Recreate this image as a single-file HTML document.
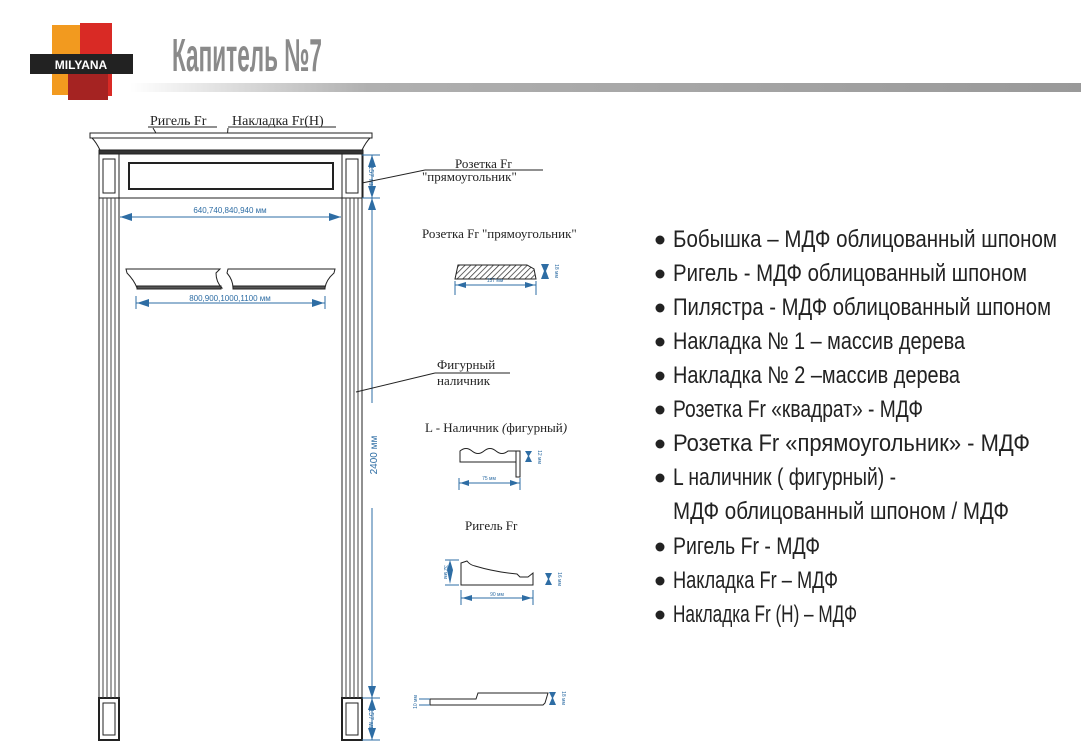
<!DOCTYPE html>
<html><head><meta charset="utf-8"><style>
html,body{margin:0;padding:0;background:#fff;width:1081px;height:750px;overflow:hidden}
svg{display:block}
</style></head><body>
<svg width="1081" height="750" viewBox="0 0 1081 750" xmlns="http://www.w3.org/2000/svg">
<defs>
<linearGradient id="bar" x1="0" x2="1" y1="0" y2="0">
<stop offset="0" stop-color="#fff"/><stop offset="0.25" stop-color="#b0b0b0"/><stop offset="1" stop-color="#999"/>
</linearGradient>
<pattern id="hatch" width="4" height="4" patternUnits="userSpaceOnUse" patternTransform="rotate(45)">
<line x1="0" y1="0" x2="0" y2="4" stroke="#333" stroke-width="1.5"/></pattern>
</defs>
<!-- logo -->
<rect x="52" y="25" width="32" height="70" fill="#f29a1f"/>
<rect x="80" y="23" width="32" height="73" fill="#d92a25"/>
<rect x="68" y="70" width="40" height="30" fill="#a52322"/>
<rect x="30" y="54" width="103" height="20" fill="#222"/>
<text x="81" y="69" font-family="Liberation Sans,sans-serif" font-weight="bold" font-size="12" fill="#fff" text-anchor="middle">MILYANA</text>
<!-- title -->
<text x="172" y="71" font-family="Liberation Sans,sans-serif" font-weight="bold" font-size="46" fill="#8a8a8a" textLength="150" lengthAdjust="spacingAndGlyphs">Капитель №7</text>
<rect x="130" y="83" width="951" height="9" fill="url(#bar)"/>

<g font-family="Liberation Serif,serif" fill="#222">
<text x="150" y="125" font-size="14">Ригель Fr</text>
<line x1="148" y1="127" x2="217" y2="127" stroke="#222"/>
<text x="232" y="125" font-size="14">Накладка Fr(H)</text>
<line x1="228" y1="127" x2="336" y2="127" stroke="#222"/>
<line x1="153" y1="128" x2="160" y2="140" stroke="#222"/>
<line x1="228" y1="128" x2="224" y2="175" stroke="#222"/>
</g>

<!-- cornice -->
<g stroke="#222" fill="#fff">
<rect x="90" y="133" width="282" height="5"/>
<path d="M92 138 L370 138 Q366 142 362 150 L100 150 Q96 142 92 138Z"/>
<rect x="99" y="150" width="264" height="4" fill="#333"/>
<rect x="99" y="154" width="264" height="44"/>
<rect x="129" y="163" width="204" height="26" stroke-width="2"/>
<rect x="99" y="154" width="20" height="44"/>
<rect x="103" y="159" width="12" height="34"/>
<rect x="342" y="154" width="20" height="44"/>
<rect x="346" y="159" width="12" height="34"/>
<!-- pilasters -->
<rect x="99" y="198" width="20" height="500"/>
<rect x="342" y="198" width="20" height="500"/>
<rect x="99" y="698" width="20" height="42" stroke-width="2"/>
<rect x="103" y="703" width="12" height="32"/>
<rect x="342" y="698" width="20" height="42" stroke-width="2"/>
<rect x="346" y="703" width="12" height="32"/>
</g>
<g stroke="#444" stroke-width="1">
<line x1="103" y1="198" x2="103" y2="698"/><line x1="107" y1="198" x2="107" y2="698"/><line x1="111" y1="198" x2="111" y2="698"/><line x1="115" y1="198" x2="115" y2="698"/>
<line x1="346" y1="198" x2="346" y2="698"/><line x1="350" y1="198" x2="350" y2="698"/><line x1="354" y1="198" x2="354" y2="698"/><line x1="358" y1="198" x2="358" y2="698"/>
</g>

<!-- middle riegel pieces -->
<g stroke="#222" fill="#fff">
<path d="M126 269 L220 269 L216 273 Q216 282 222 288 L137 288 Q134 280 127 273Z"/>
<path d="M228 269 L335 269 L334 273 Q326 280 325 288 L233 288 Q233 280 227 273Z"/>
<rect x="137" y="286" width="84" height="3" fill="#555"/>
<rect x="233" y="286" width="92" height="3" fill="#555"/>
</g>

<!-- dimension lines -->
<g stroke="#2e6da4" fill="#2e6da4" font-family="Liberation Sans,sans-serif">
<line x1="120" y1="217" x2="341" y2="217"/>
<path d="M120 217 l12 -4 v8z M341 217 l-12 -4 v8z" stroke="none"/>
<text x="230" y="213" font-size="8" stroke="none" text-anchor="middle">640,740,840,940 мм</text>
<line x1="136" y1="303" x2="325" y2="303"/>
<line x1="136" y1="296" x2="136" y2="309"/><line x1="325" y1="296" x2="325" y2="309"/>
<path d="M137 303 l12 -4 v8z M324 303 l-12 -4 v8z" stroke="none"/>
<text x="230" y="301" font-size="8" stroke="none" text-anchor="middle">800,900,1000,1100 мм</text>
<line x1="372" y1="155" x2="372" y2="403"/>
<line x1="372" y1="508" x2="372" y2="740"/>
<line x1="362" y1="155" x2="380" y2="155"/><line x1="362" y1="198" x2="380" y2="198"/>
<line x1="362" y1="698" x2="380" y2="698"/><line x1="362" y1="740" x2="380" y2="740"/>
<path d="M372 155 l-4 12 h8z M372 198 l-4 -12 h8z M372 198 l-4 12 h8z M372 698 l-4 -12 h8z M372 698 l-4 12 h8z M372 740 l-4 -12 h8z" stroke="none"/>
<text transform="translate(377 455) rotate(-90)" font-size="10" stroke="none" text-anchor="middle">2400 мм</text>
<text transform="translate(369 177) rotate(90)" font-size="7" stroke="none" text-anchor="middle">157 мм</text>
<text transform="translate(369 720) rotate(90)" font-size="7" stroke="none" text-anchor="middle">157 мм</text>
</g>

<!-- callouts -->
<g font-family="Liberation Serif,serif" fill="#222" font-size="13">
<text x="455" y="168">Розетка Fr</text>
<text x="422" y="181">"прямоугольник"</text>
<line x1="425" y1="170" x2="543" y2="170" stroke="#222"/>
<line x1="425" y1="170" x2="362" y2="183" stroke="#222"/>
<text x="437" y="369">Фигурный</text>
<text x="437" y="385">наличник</text>
<line x1="435" y1="373" x2="510" y2="373" stroke="#222"/>
<line x1="435" y1="373" x2="356" y2="392" stroke="#222"/>
<text x="422" y="238">Розетка Fr "прямоугольник"</text>
<text x="425" y="432">L - Наличник <tspan font-style="italic">(</tspan>фигурный<tspan font-style="italic">)</tspan></text>
<text x="465" y="530">Ригель Fr</text>
</g>

<!-- profiles -->
<g stroke="#222" fill="#fff">
<path d="M455 279 L458 265 L527 265 L534 269 L536 279Z" fill="url(#hatch)"/>
<path d="M460 451 Q466 446 472 451 Q478 456 484 451 Q490 446 496 451 Q502 456 508 451 L516 451 L516 462 L460 462Z"/>
<rect x="516" y="451" width="4" height="26" fill="#fff"/>
<path d="M461 585 L461 563 L467 561 Q470 565 475 566 Q495 572 517 574 L520 577 L528 577 L533 573 L533 585Z"/>
<path d="M430 705 L430 699 L476 699 L478 693 L548 693 L545 703 L543 705Z"/>
</g>
<g stroke="#2e6da4" fill="#2e6da4" font-family="Liberation Sans,sans-serif" font-size="5">
<line x1="455" y1="285" x2="536" y2="285"/><line x1="455" y1="281" x2="455" y2="295"/><line x1="536" y1="281" x2="536" y2="295"/>
<path d="M456 285 l10 -3 v6z M535 285 l-10 -3 v6z" stroke="none"/>
<text x="495" y="282" stroke="none" text-anchor="middle">157 мм</text>
<path d="M541 264 h8 l-3 7 l3 8 h-8 l3 -8z" stroke="none"/>
<text transform="translate(555 271) rotate(90)" stroke="none" text-anchor="middle">18 мм</text>
<line x1="459" y1="483" x2="520" y2="483"/><line x1="459" y1="478" x2="459" y2="490"/><line x1="520" y1="478" x2="520" y2="490"/>
<path d="M460 483 l9 -3 v6z M519 483 l-9 -3 v6z" stroke="none"/>
<text x="489" y="480" stroke="none" text-anchor="middle">75 мм</text>
<path d="M525 451 h7 l-3 5 l3 6 h-7 l3 -6z" stroke="none"/>
<text transform="translate(538 457) rotate(90)" stroke="none" text-anchor="middle">12 мм</text>
<line x1="461" y1="598" x2="533" y2="598"/><line x1="461" y1="590" x2="461" y2="605"/><line x1="533" y1="590" x2="533" y2="605"/>
<path d="M462 598 l10 -3 v6z M532 598 l-10 -3 v6z" stroke="none"/>
<text x="497" y="596" stroke="none" text-anchor="middle">90 мм</text>
<path d="M450 560 l3 10 l-3 14 l-3 -14z" stroke="none"/>
<line x1="445" y1="560" x2="459" y2="560"/><line x1="445" y1="585" x2="459" y2="585"/>
<text transform="translate(444 572) rotate(90)" stroke="none" text-anchor="middle">32 мм</text>
<path d="M545 573 h7 l-3 6 l3 6 h-7 l3 -6z" stroke="none"/>
<text transform="translate(558 579) rotate(90)" stroke="none" text-anchor="middle">16 мм</text>
<path d="M549 692 h7 l-3 6 l3 7 h-7 l3 -7z" stroke="none"/>
<text transform="translate(562 698) rotate(90)" stroke="none" text-anchor="middle">18 мм</text>
<line x1="419" y1="699" x2="430" y2="699"/><line x1="419" y1="705" x2="430" y2="705"/>
<text transform="translate(417 702) rotate(-90)" stroke="none" text-anchor="middle">10 мм</text>
</g>

<!-- list -->
<g font-family="Liberation Sans,sans-serif" font-size="24" fill="#222">
<circle cx="660" cy="240" r="4.5"/><text x="673" y="247" textLength="384" lengthAdjust="spacingAndGlyphs">Бобышка – МДФ облицованный шпоном</text>
<circle cx="660" cy="274" r="4.5"/><text x="673" y="281" textLength="354" lengthAdjust="spacingAndGlyphs">Ригель - МДФ облицованный шпоном</text>
<circle cx="660" cy="308" r="4.5"/><text x="673" y="315" textLength="378" lengthAdjust="spacingAndGlyphs">Пилястра - МДФ облицованный шпоном</text>
<circle cx="660" cy="342" r="4.5"/><text x="673" y="349" textLength="292" lengthAdjust="spacingAndGlyphs">Накладка № 1 – массив дерева</text>
<circle cx="660" cy="376" r="4.5"/><text x="673" y="383" textLength="287" lengthAdjust="spacingAndGlyphs">Накладка № 2 –массив дерева</text>
<circle cx="660" cy="410" r="4.5"/><text x="673" y="417" textLength="250" lengthAdjust="spacingAndGlyphs">Розетка Fr «квадрат» - МДФ</text>
<circle cx="660" cy="444" r="4.5"/><text x="673" y="451" textLength="357" lengthAdjust="spacingAndGlyphs">Розетка Fr «прямоугольник» - МДФ</text>
<circle cx="660" cy="478" r="4.5"/><text x="673" y="485" textLength="223" lengthAdjust="spacingAndGlyphs">L наличник ( фигурный) -</text>
<text x="673" y="519" textLength="336" lengthAdjust="spacingAndGlyphs">МДФ облицованный шпоном / МДФ</text>
<circle cx="660" cy="547" r="4.5"/><text x="673" y="554" textLength="147" lengthAdjust="spacingAndGlyphs">Ригель Fr - МДФ</text>
<circle cx="660" cy="581" r="4.5"/><text x="673" y="588" textLength="165" lengthAdjust="spacingAndGlyphs">Накладка Fr – МДФ</text>
<circle cx="660" cy="615" r="4.5"/><text x="673" y="622" textLength="184" lengthAdjust="spacingAndGlyphs">Накладка Fr (H) – МДФ</text>
</g>
</svg>
</body></html>
